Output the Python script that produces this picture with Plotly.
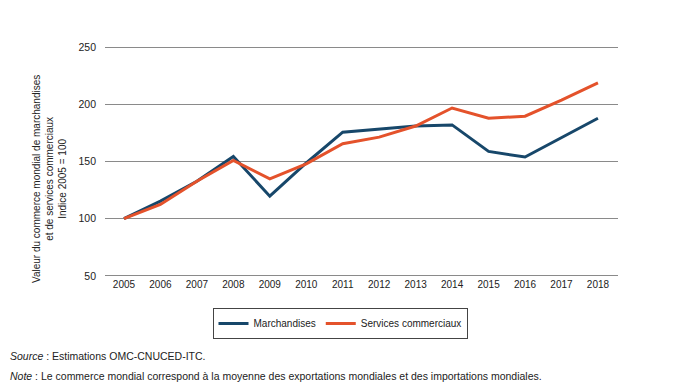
import plotly.graph_objects as go

years = list(range(2005, 2019))
marchandises = [100, 115.3, 132.7, 154.4, 119.7, 148.7, 175.6, 178.3, 181.1, 182.0, 158.8, 153.9, 171.0, 187.8]
services = [100, 112.4, 132.7, 151.0, 134.8, 148.0, 165.5, 171.3, 181.0, 196.8, 187.8, 189.6, 203.7, 218.8]
y_ticks = [50, 100, 150, 200, 250]

FONT = "Liberation Sans, Arial, sans-serif"
OFF = 8  # page body margin
W, H = 686 - OFF, 392 - OFF
YPAD = 1.0  # extend y range slightly so the 50 and 250 gridlines are drawn
PXU = (276 - 47) / 200.0
L = 105 - OFF
T = round(47 - YPAD * PXU) - OFF
R = W - (618 - OFF)
B = H - (round(276 + YPAD * PXU) - OFF)
pw, ph = W - L - R, H - T - B

def px_x(sx):
    return (sx - OFF - L) / pw

def px_y(sy):
    return (H - B - (sy - OFF)) / ph

fig = go.Figure()
fig.add_trace(go.Scatter(x=years, y=marchandises, mode="lines", name="Marchandises",
                         line=dict(color="#17476a", width=3)))
fig.add_trace(go.Scatter(x=years, y=services, mode="lines", name="Services commerciaux",
                         line=dict(color="#e4522b", width=3)))

fig.update_layout(
    width=W, height=H,
    margin=dict(l=L, r=R, t=T, b=B),
    paper_bgcolor="white", plot_bgcolor="white",
    font=dict(family=FONT, size=10, color="#222"),
    xaxis=dict(range=[2004.48, 2018.55], tickmode="array", tickvals=years,
               ticktext=[str(y) for y in years], showgrid=False, zeroline=False,
               showline=False, ticks="", tickfont=dict(size=10, color="#222")),
    yaxis=dict(range=[50 - YPAD, 250 + YPAD], tickmode="array", tickvals=y_ticks,
               showgrid=True, gridcolor="#8a8a8a", gridwidth=1, zeroline=False,
               showline=False, ticks="", ticklabelstandoff=8,
               tickfont=dict(size=10.5, color="#222")),
    legend=dict(orientation="h", x=px_x(340), xanchor="center", y=px_y(308), yanchor="top",
                bordercolor="#444", borderwidth=1, font=dict(size=10, color="#222"),
                itemwidth=30, tracegroupgap=0),
    showlegend=True,
)

fig.add_annotation(text="Valeur du commerce mondial de marchandises<br>et de services commerciaux<br>Indice 2005 = 100",
                   xref="paper", yref="paper", x=px_x(50), y=px_y(179), textangle=-90,
                   showarrow=False, font=dict(size=10, color="#222"), align="center",
                   xanchor="center", yanchor="middle")
fig.add_annotation(text="<i>Source</i> : Estimations OMC-CNUCED-ITC.",
                   xref="paper", yref="paper", x=px_x(8), y=px_y(356), xanchor="left", yanchor="middle",
                   showarrow=False, font=dict(size=10.5, color="#222"))
fig.add_annotation(text="<i>Note</i> : Le commerce mondial correspond à la moyenne des exportations mondiales et des importations mondiales.",
                   xref="paper", yref="paper", x=px_x(8), y=px_y(376), xanchor="left", yanchor="middle",
                   showarrow=False, font=dict(size=10.5, color="#222"))

fig.write_html("out.html")
